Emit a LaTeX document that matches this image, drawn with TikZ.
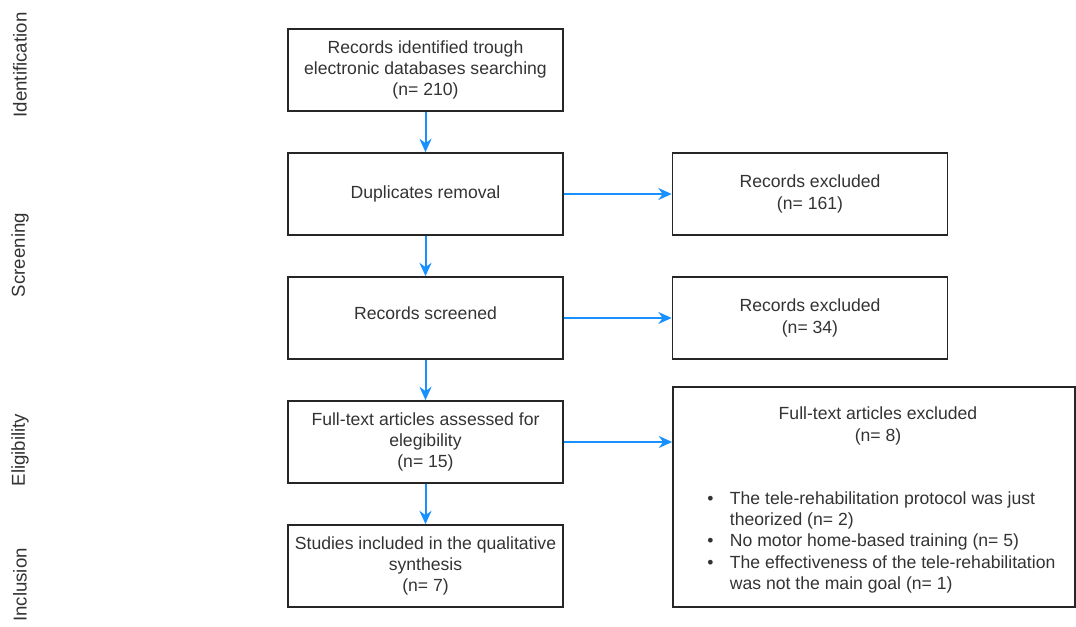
\documentclass[tikz,border=0pt]{standalone}
\usepackage{fontspec}
\setmainfont{Liberation Sans}
\usetikzlibrary{arrows.meta}
\definecolor{flowblue}{RGB}{24,144,255}
\definecolor{txtgray}{RGB}{51,51,51}

\begin{document}
\begin{tikzpicture}[x=0.75pt,y=-0.75pt,
    box/.style={draw=black!85,line width=1.3pt,minimum width=275*0.75pt,
      minimum height=82*0.75pt,inner sep=2pt,align=center,text=txtgray,
      font=\fontsize{13.2}{16}\selectfont},
    flow/.style={draw=flowblue,line width=1.5pt,-{Stealth[length=10pt,width=9pt]}},
    phase/.style={rotate=90,text=txtgray,font=\fontsize{14}{16}\selectfont}]
    \useasboundingbox (0,0) rectangle (1076,626);
    % phases
    \node[phase] (pident) at (20,65) {Identification};
    \node[phase] (pscreen) at (20,255) {Screening};
    \node[phase] (pelig) at (20,450) {Eligibility};
    \node[phase] (pincl) at (20,585) {Inclusion};
    % main column
    \node[box] (ident) at (425.5,70) {Records identified trough\\electronic databases searching\\(n= 210)};
    \node[box] (dupl) at (425.5,194) {Duplicates removal};
    \node[box] (screen) at (425.5,318) {\raisebox{7pt}{Records screened}};
    \node[box] (elig) at (425.5,442) {Full-text articles assessed for\\elegibility\\(n= 15)};
    \node[box] (incl) at (425.5,566) {Studies included in the qualitative\\synthesis\\(n= 7)};
    % excluded
    \node[box] (exc1) at (810,194) {Records excluded\\(n= 161)};
    \node[box] (exc2) at (810,318) {Records excluded\\(n= 34)};
    \node[box,minimum width=402*0.75pt,minimum height=220*0.75pt] (exc3) at (874,497) {};
    \node[text=txtgray,font=\fontsize{13.2}{16}\selectfont,align=center] (exc3title) at (878,426)
      {Full-text articles excluded\\(n= 8)};
    \node[anchor=north west,inner sep=0pt,text=txtgray,font=\fontsize{13.2}{16}\selectfont] (exc3list) at (707,489)
      {\begin{tabular}{@{}p{17pt}@{}l@{}}
        \textbullet & The tele-rehabilitation protocol was just\\
                    & theorized (n= 2)\\
        \textbullet & No motor home-based training (n= 5)\\
        \textbullet & The effectiveness of the tele-rehabilitation\\
                    & was not the main goal (n= 1)
       \end{tabular}};
    % arrows
    \draw[flow] (ident) -- (dupl);
    \draw[flow] (dupl) -- (screen);
    \draw[flow] (screen) -- (elig);
    \draw[flow] (elig) -- (incl);
    \draw[flow] (dupl) -- (exc1);
    \draw[flow] (screen) -- (exc2);
    \draw[flow] (elig.east) -- (elig.east -| exc3.west);
\end{tikzpicture}
\end{document}
